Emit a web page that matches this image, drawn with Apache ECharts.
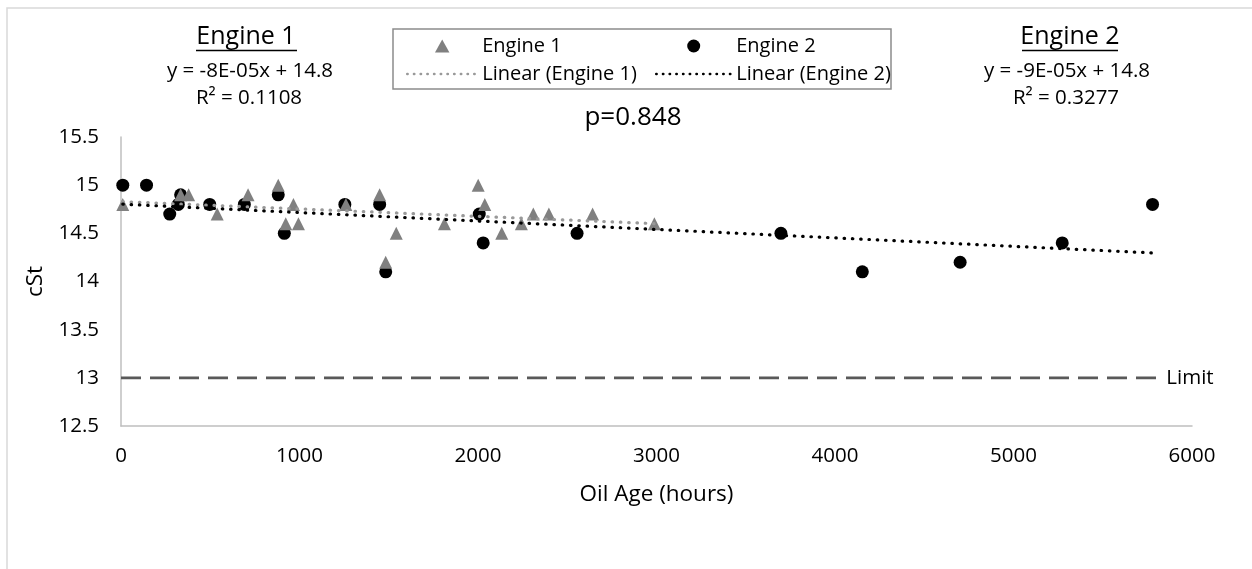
<!DOCTYPE html>
<html>
<head>
<meta charset="utf-8">
<script src="https://cdn.jsdelivr.net/npm/echarts@6/dist/echarts.min.js"></script>
<style>
html,body{margin:0;padding:0;background:#fff;}
#chart{width:1252px;height:569px;}
</style>
</head>
<body>
<div id="chart"></div>
<script>
// ---- data ----
const engine1Hours = [10, 334, 379, 539, 712, 881, 923, 966, 994, 1260, 1449, 1483, 1542, 1812, 2001, 2038, 2133, 2243, 2310, 2397, 2642, 2988];
const engine1Cst   = [14.8, 14.9, 14.9, 14.7, 14.9, 15.0, 14.6, 14.8, 14.6, 14.8, 14.9, 14.2, 14.5, 14.6, 15.0, 14.8, 14.5, 14.6, 14.7, 14.7, 14.7, 14.6];
const engine2Hours = [10, 143, 273, 321, 334, 497, 691, 881, 915, 1254, 1449, 1483, 2007, 2029, 2555, 3697, 4153, 4701, 5273, 5779];
const engine2Cst   = [15.0, 15.0, 14.7, 14.8, 14.9, 14.8, 14.8, 14.9, 14.5, 14.8, 14.8, 14.1, 14.7, 14.4, 14.5, 14.5, 14.1, 14.2, 14.4, 14.8];
const limitHours = [0, 5800];
const limitCst = [13, 13];
const seriesNames = ['Engine 1', 'Engine 2', 'Linear (Engine 1)', 'Linear (Engine 2)'];
const eqText1 = ['Engine 1', 'y = -8E-05x + 14.8', 'R\u00B2 = 0.1108'];
const eqText2 = ['Engine 2', 'y = -9E-05x + 14.8', 'R\u00B2 = 0.3277'];
const pText = 'p=0.848';
const xAxisName = 'Oil Age (hours)';
const yAxisName = 'cSt';
const limitLabel = 'Limit';

// ---- helpers ----
function zip(xs, ys) { return xs.map((x, i) => [x, ys[i]]); }
function trend(xs, ys) {
  const n = xs.length;
  const mx = xs.reduce((a, b) => a + b, 0) / n;
  const my = ys.reduce((a, b) => a + b, 0) / n;
  let sxy = 0, sxx = 0;
  for (let i = 0; i < n; i++) { sxy += (xs[i] - mx) * (ys[i] - my); sxx += (xs[i] - mx) ** 2; }
  const b = sxy / sxx, a = my - b * mx;
  const x0 = Math.min(...xs), x1 = Math.max(...xs);
  return [[x0, a + b * x0], [x1, a + b * x1]];
}

const FONT = '"Open Sans"';
const TXT = '#000';
const chart = echarts.init(document.getElementById('chart'), null, {renderer: 'canvas'});

const dotted = (color) => ({color: color, width: 3.2, type: [0.5, 7.8], cap: 'round'});
const legendLine = {width: 2.4, type: [0.5, 6.2], cap: 'round'};
const triPath = 'path://M5,0L10,9L0,9Z';

const legendText = {fontSize: 20, color: TXT, fontFamily: FONT};

const option = {
  backgroundColor: '#fff',
  animation: false,
  textStyle: {fontFamily: FONT},
  grid: {left: 121, right: 60, top: 137, bottom: 143, containLabel: false},
  xAxis: {
    type: 'value', min: 0, max: 6000, interval: 1000,
    name: xAxisName, nameLocation: 'middle', nameGap: 57,
    nameTextStyle: {fontSize: 22.5, color: TXT, fontFamily: FONT},
    axisLine: {show: true, lineStyle: {color: '#bfbfbf', width: 1.5}},
    axisTick: {show: false},
    splitLine: {show: false},
    axisLabel: {fontSize: 20.5, color: TXT, margin: 20, fontFamily: FONT, formatter: (v) => String(v)}
  },
  yAxis: {
    type: 'value', min: 12.5, max: 15.5, interval: 0.5,
    name: yAxisName, nameLocation: 'middle', nameGap: 68, nameRotate: 90,
    nameTextStyle: {fontSize: 22.5, color: TXT, fontFamily: FONT},
    axisLine: {show: true, lineStyle: {color: '#bfbfbf', width: 1.5}},
    axisTick: {show: false},
    splitLine: {show: false},
    axisLabel: {fontSize: 20.5, color: TXT, margin: 22, fontFamily: FONT, formatter: (v) => String(v)}
  },
  legend: [
    {
      data: [
        {name: seriesNames[0], icon: triPath},
        {name: seriesNames[2], itemStyle: {opacity: 0}, lineStyle: legendLine}
      ],
      orient: 'vertical', left: 406, top: 36, padding: 0,
      itemWidth: 70, itemHeight: 13, itemGap: 8, selectedMode: false, symbolKeepAspect: true,
      textStyle: legendText
    },
    {
      data: [
        {name: seriesNames[1], icon: 'circle'},
        {name: seriesNames[3], itemStyle: {opacity: 0}, lineStyle: legendLine}
      ],
      orient: 'vertical', left: 655, top: 36, padding: 0,
      itemWidth: 75, itemHeight: 13, itemGap: 8, selectedMode: false, symbolKeepAspect: true,
      textStyle: legendText
    }
  ],
  series: [
    {
      name: seriesNames[1], type: 'scatter', z: 2,
      symbol: 'circle', symbolSize: 13,
      itemStyle: {color: '#000', opacity: 1},
      data: zip(engine2Hours, engine2Cst)
    },
    {
      name: seriesNames[0], type: 'scatter', z: 3,
      symbol: 'triangle', symbolSize: 13,
      itemStyle: {color: '#808080', opacity: 1},
      data: zip(engine1Hours, engine1Cst)
    },
    {
      name: seriesNames[2], type: 'line', z: 4, symbol: 'none', silent: true,
      lineStyle: dotted('#999999'), itemStyle: {color: '#999999'},
      data: trend(engine1Hours, engine1Cst)
    },
    {
      name: seriesNames[3], type: 'line', z: 4, symbol: 'none', silent: true,
      lineStyle: dotted('#000000'), itemStyle: {color: '#000'},
      data: trend(engine2Hours, engine2Cst)
    },
    {
      name: limitLabel, type: 'line', z: 2, symbol: 'none', silent: true,
      lineStyle: {color: '#595959', width: 2.6, type: [20, 9]},
      endLabel: {show: true, formatter: limitLabel, distance: 10, fontSize: 20.5, color: TXT, fontFamily: FONT},
      data: zip(limitHours, limitCst)
    }
  ],
  graphic: [
    {type: 'rect', shape: {x: 7, y: 8, width: 1400, height: 800}, style: {fill: 'none', stroke: '#d9d9d9', lineWidth: 1.5}, silent: true, z: -1},
    {type: 'rect', shape: {x: 393, y: 29, width: 498, height: 60}, style: {fill: 'none', stroke: '#8c8c8c', lineWidth: 1.5}, silent: true},
    {type: 'text', x: 246, y: 37, style: {text: eqText1[0], font: '25px ' + FONT, fill: TXT, textAlign: 'center', textVerticalAlign: 'middle'}},
    {type: 'line', shape: {x1: 196, y1: 50.5, x2: 297, y2: 50.5}, style: {stroke: TXT, lineWidth: 1.6}},
    {type: 'text', x: 250, y: 71, style: {text: eqText1[1], font: '20.5px ' + FONT, fill: TXT, textAlign: 'center', textVerticalAlign: 'middle'}},
    {type: 'text', x: 249, y: 98, style: {text: eqText1[2], font: '20.5px ' + FONT, fill: TXT, textAlign: 'center', textVerticalAlign: 'middle'}},
    {type: 'text', x: 1070, y: 37, style: {text: eqText2[0], font: '25px ' + FONT, fill: TXT, textAlign: 'center', textVerticalAlign: 'middle'}},
    {type: 'line', shape: {x1: 1022, y1: 50.5, x2: 1118, y2: 50.5}, style: {stroke: TXT, lineWidth: 1.6}},
    {type: 'text', x: 1067, y: 71, style: {text: eqText2[1], font: '20.5px ' + FONT, fill: TXT, textAlign: 'center', textVerticalAlign: 'middle'}},
    {type: 'text', x: 1066, y: 98, style: {text: eqText2[2], font: '20.5px ' + FONT, fill: TXT, textAlign: 'center', textVerticalAlign: 'middle'}},
    {type: 'text', x: 633, y: 118, style: {text: pText, font: '26px ' + FONT, fill: TXT, textAlign: 'center', textVerticalAlign: 'middle'}}
  ]
};
chart.setOption(option);
</script>
</body>
</html>
